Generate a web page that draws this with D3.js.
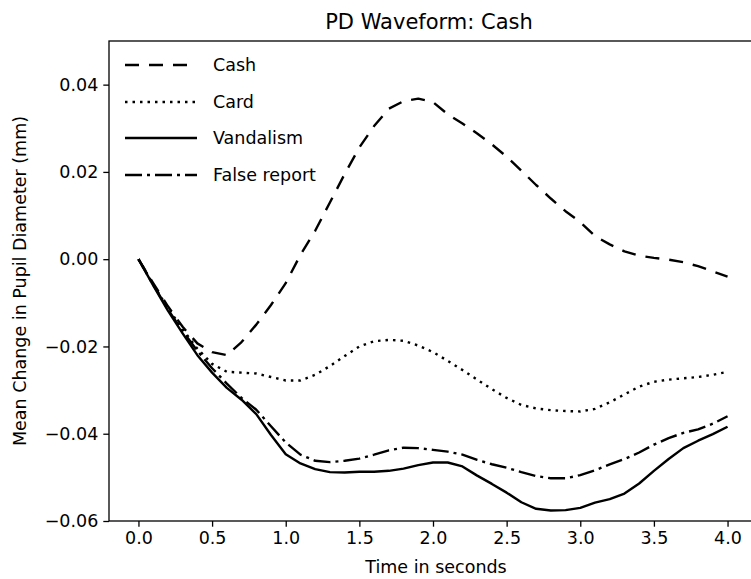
<!DOCTYPE html>
<html>
<head>
<meta charset="utf-8">
<script src="https://d3js.org/d3.v7.min.js"></script>
<style>
  body { margin: 0; background: #fff; }
  text { font-family: "DejaVu Sans", sans-serif; fill: #000; }
</style>
</head>
<body>
<div id="chart"></div>
<script>
// time axis, every 0.1 s
var times = [0.0, 0.1, 0.2, 0.3, 0.4, 0.5, 0.6, 0.7, 0.8, 0.9, 1.0,
  1.1, 1.2, 1.3, 1.4, 1.5, 1.6, 1.7, 1.8, 1.9, 2.0,
  2.1, 2.2, 2.3, 2.4, 2.5, 2.6, 2.7, 2.8, 2.9, 3.0,
  3.1, 3.2, 3.3, 3.4, 3.5, 3.6, 3.7, 3.8, 3.9, 4.0];

var cashVals = [0, -0.0055, -0.0108, -0.0155, -0.0193, -0.0213, -0.0220, -0.0190, -0.0150, -0.0105, -0.0055,
  0.0010, 0.0065, 0.0130, 0.0195, 0.0256, 0.0305, 0.0345, 0.0362, 0.0368, 0.0360,
  0.0332, 0.0311, 0.0288, 0.0263, 0.0235, 0.0203, 0.0170, 0.0139, 0.0110, 0.0085,
  0.0053, 0.0034, 0.0018, 0.0008, 0.0003, -0.0001, -0.0007, -0.0016, -0.0028, -0.0040];

var cardVals = [0, -0.0058, -0.0112, -0.0160, -0.0205, -0.0240, -0.0258, -0.0260, -0.0262, -0.0270, -0.0278,
  -0.0278, -0.0265, -0.0245, -0.0222, -0.0200, -0.0188, -0.0185, -0.0187, -0.0198, -0.0213,
  -0.0233, -0.0254, -0.0276, -0.0298, -0.0318, -0.0334, -0.0342, -0.0346, -0.0348, -0.0349,
  -0.0343, -0.0328, -0.0310, -0.0292, -0.0281, -0.0276, -0.0273, -0.0270, -0.0265, -0.0258];

var vandalismVals = [0, -0.0060, -0.0118, -0.0170, -0.0220, -0.0260, -0.0295, -0.0322, -0.0355, -0.0403, -0.0447,
  -0.0468, -0.0481, -0.0488, -0.0489, -0.0487, -0.0487, -0.0485, -0.0480, -0.0472, -0.0466,
  -0.0466, -0.0475, -0.0496, -0.0515, -0.0535, -0.0557, -0.0572, -0.0576, -0.0575, -0.0570,
  -0.0558, -0.0550, -0.0537, -0.0514, -0.0485, -0.0458, -0.0433, -0.0416, -0.0401, -0.0384];

var falseReportVals = [0, -0.0058, -0.0115, -0.0165, -0.0210, -0.0250, -0.0285, -0.0318, -0.0345, -0.0383, -0.0420,
  -0.0448, -0.0462, -0.0465, -0.0462, -0.0457, -0.0448, -0.0438, -0.0432, -0.0433, -0.0437,
  -0.0441, -0.0448, -0.0460, -0.0470, -0.0478, -0.0488, -0.0497, -0.0502, -0.0502, -0.0495,
  -0.0484, -0.0470, -0.0458, -0.0443, -0.0425, -0.0410, -0.0398, -0.0390, -0.0377, -0.0360];

var seriesNames = ["Cash", "Card", "Vandalism", "False report"];
var xTicks = [0, 0.5, 1, 1.5, 2, 2.5, 3, 3.5, 4];
var yTicks = [-0.06, -0.04, -0.02, 0.00, 0.02, 0.04];

var svgWidth = 751;
var svgHeight = 579;

var margin = { top: 41, left: 109 };
var width = 648;   // right spine falls just outside the picture
var height = 480;

var fontSize = 17.5;
var lw = 2.4;

// dash patterns
var dashes = ["14,10", "2.5,5", null, "17,5,3,5"];
var seriesVals = [cashVals, cardVals, vandalismVals, falseReportVals];

var svg = d3
  .select("#chart")
  .append("svg")
  .attr("width", svgWidth)
  .attr("height", svgHeight);

var chartGroup = svg
  .append("g")
  .attr("transform", `translate(${margin.left}, ${margin.top})`);

var xLinearScale = d3.scaleLinear().domain([-0.2, 4.2]).range([0, width]);
var yLinearScale = d3.scaleLinear().domain([-0.06, 0.05]).range([height, 0]);

// lines
var line = d3
  .line()
  .x((d, i) => xLinearScale(times[i]))
  .y(d => yLinearScale(d))
  .curve(d3.curveLinear);

seriesVals.forEach(function(vals, k) {
  chartGroup
    .append("path")
    .datum(vals)
    .attr("d", line)
    .attr("fill", "none")
    .attr("stroke", "#000")
    .attr("stroke-width", lw)
    .attr("stroke-linejoin", "round")
    .attr("stroke-dasharray", dashes[k]);
});

// axes
var bottomAxis = d3
  .axisBottom(xLinearScale)
  .tickValues(xTicks)
  .tickFormat(d3.format(".1f"))
  .tickSizeInner(5.7)
  .tickSizeOuter(0)
  .tickPadding(5);

var leftAxis = d3
  .axisLeft(yLinearScale)
  .tickValues(yTicks)
  .tickFormat(d3.format(".2f"))
  .tickSizeInner(5.7)
  .tickSizeOuter(0)
  .tickPadding(5);

var xAxis = chartGroup
  .append("g")
  .attr("transform", `translate(0, ${height})`)
  .call(bottomAxis);

var yAxis = chartGroup.append("g").call(leftAxis);

[xAxis, yAxis].forEach(function(ax) {
  ax.select(".domain").remove();
  ax.selectAll(".tick line").attr("stroke", "#000").attr("stroke-width", 1.3);
  ax.selectAll(".tick text")
    .attr("font-family", "DejaVu Sans")
    .attr("font-size", fontSize)
    .attr("fill", "#000");
});

// spines
chartGroup
  .append("rect")
  .attr("x", 0)
  .attr("y", 0)
  .attr("width", width)
  .attr("height", height)
  .attr("fill", "none")
  .attr("stroke", "#000")
  .attr("stroke-width", 1.3);

// title and labels
svg
  .append("text")
  .attr("x", 429)
  .attr("y", 29)
  .attr("text-anchor", "middle")
  .attr("font-size", 21)
  .text("PD Waveform: Cash");

svg
  .append("text")
  .attr("x", 436)
  .attr("y", 573)
  .attr("text-anchor", "middle")
  .attr("font-size", fontSize)
  .text("Time in seconds");

svg
  .append("text")
  .attr("transform", `translate(26, ${margin.top + height / 2}) rotate(-90)`)
  .attr("text-anchor", "middle")
  .attr("font-size", fontSize)
  .text("Mean Change in Pupil Diameter (mm)");

// legend
var legendGroup = svg.append("g");
var legendRows = [65, 102, 138, 175];

seriesNames.forEach(function(name, k) {
  legendGroup
    .append("line")
    .attr("x1", 125)
    .attr("x2", 197)
    .attr("y1", legendRows[k])
    .attr("y2", legendRows[k])
    .attr("stroke", "#000")
    .attr("stroke-width", lw)
    .attr("stroke-dasharray", dashes[k]);

  legendGroup
    .append("text")
    .attr("x", 213)
    .attr("y", legendRows[k])
    .attr("dy", "0.36em")
    .attr("font-size", fontSize)
    .text(name);
});
</script>
</body>
</html>
